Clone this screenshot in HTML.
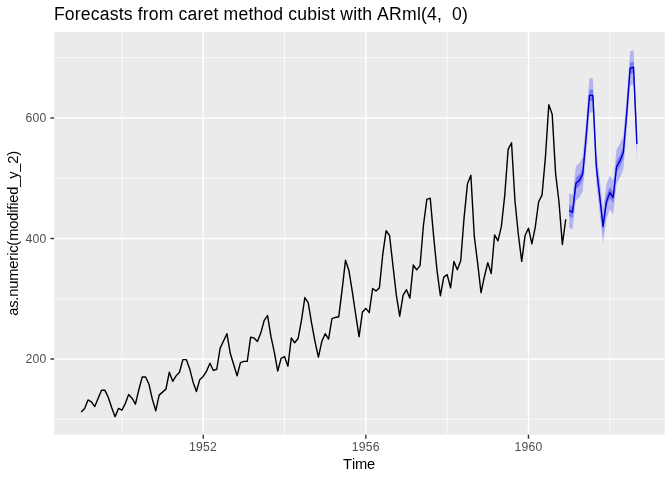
<!DOCTYPE html>
<html><head><meta charset="utf-8"><title>Forecasts</title>
<style>html,body{margin:0;padding:0;background:#fff;}svg{display:block;will-change:transform;-webkit-font-smoothing:antialiased;}text{font-family:"Liberation Sans",sans-serif;}</style></head><body>
<svg width="672" height="480" viewBox="0 0 672 480">
<rect width="672" height="480" fill="#ffffff"/>
<rect x="54.1" y="32.05" width="610.57" height="402.65" fill="#EBEBEB"/>
<defs><clipPath id="p"><rect x="54.1" y="32.05" width="610.57" height="402.65"/></clipPath></defs>
<g clip-path="url(#p)">
<line x1="54.1" x2="664.67" y1="419.25" y2="419.25" stroke="#fff" stroke-width="0.71"/>
<line x1="54.1" x2="664.67" y1="298.75" y2="298.75" stroke="#fff" stroke-width="0.71"/>
<line x1="54.1" x2="664.67" y1="178.25" y2="178.25" stroke="#fff" stroke-width="0.71"/>
<line x1="54.1" x2="664.67" y1="57.75" y2="57.75" stroke="#fff" stroke-width="0.71"/>
<line y1="32.05" y2="434.7" x1="121.88" x2="121.88" stroke="#fff" stroke-width="0.71"/>
<line y1="32.05" y2="434.7" x1="284.52" x2="284.52" stroke="#fff" stroke-width="0.71"/>
<line y1="32.05" y2="434.7" x1="447.16" x2="447.16" stroke="#fff" stroke-width="0.71"/>
<line y1="32.05" y2="434.7" x1="609.80" x2="609.80" stroke="#fff" stroke-width="0.71"/>
<line x1="54.1" x2="664.67" y1="359.00" y2="359.00" stroke="#fff" stroke-width="1.42"/>
<line x1="54.1" x2="664.67" y1="238.50" y2="238.50" stroke="#fff" stroke-width="1.42"/>
<line x1="54.1" x2="664.67" y1="118.00" y2="118.00" stroke="#fff" stroke-width="1.42"/>
<line y1="32.05" y2="434.7" x1="203.20" x2="203.20" stroke="#fff" stroke-width="1.42"/>
<line y1="32.05" y2="434.7" x1="365.84" x2="365.84" stroke="#fff" stroke-width="1.42"/>
<line y1="32.05" y2="434.7" x1="528.48" x2="528.48" stroke="#fff" stroke-width="1.42"/>
<polyline points="81.22,412.02 84.61,408.40 88.00,399.97 91.38,401.78 94.77,406.60 98.16,398.16 101.55,390.33 104.94,390.33 108.33,397.56 111.72,407.80 115.10,416.84 118.49,408.40 121.88,410.21 125.27,403.58 128.66,394.55 132.04,398.16 135.43,404.19 138.82,389.73 142.21,377.07 145.60,377.07 148.99,384.31 152.38,399.37 155.76,410.81 159.15,395.15 162.54,392.14 165.93,389.12 169.32,372.25 172.70,381.29 176.09,375.87 179.48,372.25 182.87,359.60 186.26,359.60 189.65,368.64 193.03,381.89 196.42,391.54 199.81,379.49 203.20,376.47 206.59,371.05 209.98,363.22 213.36,370.45 216.75,369.24 220.14,348.15 223.53,340.93 226.92,333.69 230.31,353.58 233.69,364.42 237.08,375.87 240.47,362.62 243.86,361.41 247.25,361.41 250.64,337.31 254.02,337.91 257.41,341.53 260.80,333.09 264.19,320.44 267.58,315.62 270.97,336.71 274.36,352.37 277.74,371.05 281.13,358.40 284.52,356.59 287.91,366.23 291.30,337.91 294.68,342.73 298.07,338.51 301.46,320.44 304.85,297.55 308.24,302.97 311.63,323.45 315.01,341.53 318.40,357.19 321.79,341.53 325.18,333.69 328.57,339.12 331.96,318.63 335.34,317.43 338.73,316.82 342.12,289.71 345.51,260.19 348.90,270.43 352.29,291.52 355.67,314.42 359.06,336.71 362.45,312.00 365.84,308.39 369.23,312.61 372.62,288.51 376.00,290.92 379.39,287.90 382.78,254.16 386.17,230.67 389.56,235.49 392.95,265.61 396.33,295.13 399.72,316.22 403.11,295.13 406.50,289.71 409.89,298.15 413.28,265.01 416.66,269.83 420.05,265.61 423.44,225.25 426.83,199.34 430.22,198.13 433.61,236.09 437.00,270.43 440.38,295.74 443.77,277.06 447.16,274.65 450.55,287.90 453.94,261.39 457.32,269.83 460.71,260.79 464.10,217.41 467.49,183.67 470.88,175.24 474.27,236.09 477.65,263.20 481.04,292.73 484.43,276.46 487.82,262.60 491.21,273.44 494.60,234.88 497.99,240.91 501.37,226.45 504.76,195.12 508.15,149.33 511.54,142.70 514.93,200.54 518.31,234.28 521.70,261.39 525.09,235.49 528.48,228.26 531.87,243.92 535.26,227.05 538.64,201.75 542.03,195.12 545.42,157.16 548.81,104.74 552.20,114.38 555.59,173.43 558.97,201.75 562.36,244.52 565.75,219.22" fill="none" stroke="#000" stroke-width="1.42" stroke-linejoin="round" stroke-linecap="butt"/>
<polygon points="569.14,193.30 572.53,195.20 575.92,166.20 579.30,163.30 582.69,157.10 586.08,120.90 589.47,78.30 592.86,78.30 596.25,148.90 599.63,178.40 603.02,209.20 606.41,184.60 609.80,175.40 613.19,180.40 616.58,149.60 619.97,143.70 623.35,135.40 626.74,95.90 630.13,51.20 633.52,50.20 636.91,126.90 636.91,161.10 633.52,84.40 630.13,85.40 626.74,130.10 623.35,169.60 619.97,177.90 616.58,183.80 613.19,214.60 609.80,209.60 606.41,218.80 603.02,243.40 599.63,212.60 596.25,183.10 592.86,112.50 589.47,112.50 586.08,155.10 582.69,191.30 579.30,197.50 575.92,200.40 572.53,229.40 569.14,227.50" fill="#0000FF" fill-opacity="0.24"/>
<polygon points="569.14,204.80 572.53,206.70 575.92,177.70 579.30,174.80 582.69,168.60 586.08,132.40 589.47,89.80 592.86,89.80 596.25,160.40 599.63,189.90 603.02,220.70 606.41,196.10 609.80,186.90 613.19,191.90 616.58,161.10 619.97,155.20 623.35,146.90 626.74,107.40 630.13,62.70 633.52,61.70 636.91,138.40 636.91,149.60 633.52,72.90 630.13,73.90 626.74,118.60 623.35,158.10 619.97,166.40 616.58,172.30 613.19,203.10 609.80,198.10 606.41,207.30 603.02,231.90 599.63,201.10 596.25,171.60 592.86,101.00 589.47,101.00 586.08,143.60 582.69,179.80 579.30,186.00 575.92,188.90 572.53,217.90 569.14,216.00" fill="#0000FF" fill-opacity="0.33"/>
<polyline points="569.14,210.40 572.53,212.30 575.92,183.30 579.30,180.40 582.69,174.20 586.08,138.00 589.47,95.40 592.86,95.40 596.25,166.00 599.63,195.50 603.02,226.30 606.41,201.70 609.80,192.50 613.19,197.50 616.58,166.70 619.97,160.80 623.35,152.50 626.74,113.00 630.13,68.30 633.52,67.30 636.91,144.00" fill="none" stroke="#0000CD" stroke-width="1.42" stroke-linejoin="round" stroke-linecap="butt"/>
</g>
<line x1="50.43" x2="54.1" y1="359.00" y2="359.00" stroke="#333" stroke-width="1.42"/>
<text x="25.50 32.50 39.50" y="363.45" font-size="12.2" fill="#4D4D4D" xml:space="preserve" style="white-space:pre">200</text>
<line x1="50.43" x2="54.1" y1="238.50" y2="238.50" stroke="#333" stroke-width="1.42"/>
<text x="25.50 32.50 39.50" y="242.95" font-size="12.2" fill="#4D4D4D" xml:space="preserve" style="white-space:pre">400</text>
<line x1="50.43" x2="54.1" y1="118.00" y2="118.00" stroke="#333" stroke-width="1.42"/>
<text x="25.50 32.50 39.50" y="122.45" font-size="12.2" fill="#4D4D4D" xml:space="preserve" style="white-space:pre">600</text>
<line y1="434.7" y2="438.70" x1="203.20" x2="203.20" stroke="#333" stroke-width="1.42"/>
<text x="189.10 196.10 203.10 210.10" y="450.9" font-size="12.2" fill="#4D4D4D" xml:space="preserve" style="white-space:pre">1952</text>
<line y1="434.7" y2="438.70" x1="365.84" x2="365.84" stroke="#333" stroke-width="1.42"/>
<text x="351.74 358.74 365.74 372.74" y="450.9" font-size="12.2" fill="#4D4D4D" xml:space="preserve" style="white-space:pre">1956</text>
<line y1="434.7" y2="438.70" x1="528.48" x2="528.48" stroke="#333" stroke-width="1.42"/>
<text x="514.38 521.38 528.38 535.38" y="450.9" font-size="12.2" fill="#4D4D4D" xml:space="preserve" style="white-space:pre">1960</text>
<text x="343.00 352.00 355.00 367.00" y="468.8" font-size="14.67" fill="#000" xml:space="preserve" style="white-space:pre">Time</text>
<g transform="translate(18.0,315.8) rotate(-90)"><text x="0.00 8.00 15.00 19.00 27.00 35.00 47.00 55.00 60.00 63.00 70.00 75.00 87.00 95.00 103.00 106.00 110.00 113.00 121.00 129.00 137.00 144.00 152.00 160.00" y="0" font-size="14.67" fill="#000" xml:space="preserve" style="white-space:pre">as.numeric(modified_y_2)</text></g>
<text x="53.90 64.87 74.85 80.83 90.81 99.79 109.77 118.74 123.73 132.71 137.70 142.69 148.67 158.65 173.61 178.60 187.58 197.55 203.54 213.51 218.50 223.49 238.45 248.43 253.42 263.39 273.37 283.35 288.33 297.31 307.29 317.26 321.25 330.23 335.22 340.21 353.18 357.17 362.16 372.13 377.12 389.09 402.06 417.02 421.01 427.00 436.97 441.96 446.95 451.94 461.91" y="19.8" font-size="17.6" fill="#000" xml:space="preserve" style="white-space:pre">Forecasts from caret method cubist with ARml(4,  0)</text>
</svg></body></html>
